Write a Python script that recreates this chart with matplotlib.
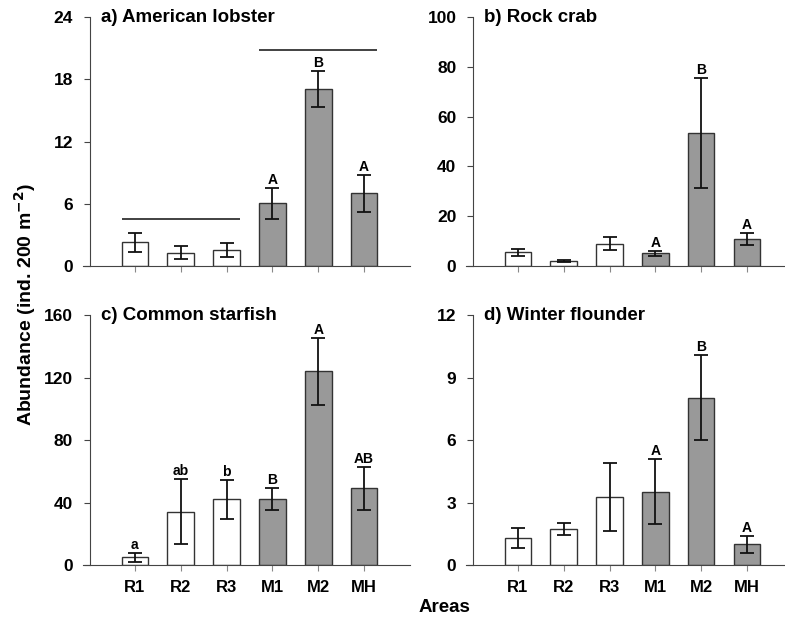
import matplotlib
matplotlib.use('Agg')
import matplotlib.pyplot as plt
import numpy as np

plt.rcParams['font.family'] = ['Liberation Sans', 'DejaVu Sans']
plt.rcParams['font.weight'] = 'bold'

areas = ['R1', 'R2', 'R3', 'M1', 'M2', 'MH']

lobster = [2.28, 1.29, 1.54, 6.05, 17.05, 7.01]
lobster_err = [0.9, 0.6, 0.65, 1.5, 1.7, 1.8]
lobster_lett = ['', '', '', 'A', 'B', 'A']

crab = [5.5, 1.9, 9.0, 5.1, 53.4, 11.0]
crab_err = [1.4, 0.4, 2.5, 1.0, 22.2, 2.4]
crab_lett = ['', '', '', 'A', 'B', 'A']

starfish = [4.9, 34.1, 42.0, 42.0, 124.0, 49.1]
starfish_err = [2.9, 20.8, 12.3, 7.0, 21.3, 13.7]
starfish_lett = ['a', 'ab', 'b', 'B', 'A', 'AB']

flounder = [1.28, 1.74, 3.26, 3.52, 8.02, 0.99]
flounder_err = [0.48, 0.28, 1.63, 1.55, 2.04, 0.40]
flounder_lett = ['', '', '', 'A', 'B', 'A']

colors = ['white', 'white', 'white', '#999999', '#999999', '#999999']

fig = plt.figure(figsize=(7.85, 6.19), dpi=100)

# panel boxes (fig fractions)
panels = [
    ([0.1057, 0.5703, 0.4166, 0.4022], lobster, lobster_err, lobster_lett, 'a) American lobster', [0, 6, 12, 18, 24], (-1.13, 6.0), False),
    ([0.5936, 0.5703, 0.4064, 0.4022], crab, crab_err, crab_lett, 'b) Rock crab', [0, 20, 40, 60, 80, 100], (-1.135, 5.83), False),
    ([0.1057, 0.0872, 0.4166, 0.4039], starfish, starfish_err, starfish_lett, 'c) Common starfish', [0, 40, 80, 120, 160], (-1.13, 6.0), True),
    ([0.5936, 0.0872, 0.4064, 0.4039], flounder, flounder_err, flounder_lett, 'd) Winter flounder', [0, 3, 6, 9, 12], (-1.135, 5.83), True),
]

x = np.arange(len(areas))
axes = []
for box, vals, errs, lett, title, yt, xl, show_lab in panels:
    ax = fig.add_axes(box)
    axes.append(ax)
    ax.bar(x, vals, width=0.58, color=colors, edgecolor='#333333', linewidth=1.0, zorder=2)
    ax.errorbar(x, vals, yerr=errs, fmt='none', ecolor='#111111', elinewidth=1.3,
                capsize=4.7, capthick=1.3, zorder=3)
    ymax = yt[-1]
    for i in range(len(x)):
        if lett[i]:
            ax.text(x[i], vals[i] + errs[i] + ymax * 0.004, lett[i], ha='center', va='bottom',
                    fontsize=10, fontweight='bold')
    ax.set_xlim(xl)
    ax.set_ylim(0, ymax)
    ax.set_yticks(yt)
    ax.set_xticks(x)
    if show_lab:
        ax.set_xticklabels(areas, fontsize=12, fontweight='bold')
    else:
        ax.set_xticklabels([])
    ax.spines['top'].set_visible(False)
    ax.spines['right'].set_visible(False)
    ax.spines['left'].set_position(('data', -0.98))
    ax.spines['left'].set_color('#444444')
    ax.spines['bottom'].set_color('#444444')
    ax.tick_params(axis='y', direction='out', length=4, color='#444444', pad=8, labelsize=12.5)
    ax.tick_params(axis='x', direction='out', length=4, color='#888888', pad=7)
    ax.patch.set_alpha(0)
    tx = xl[0] + 0.055 * (xl[1] - xl[0])
    ax.text(tx, ymax, title, ha='left', va='center', fontsize=13.5, fontweight='bold', clip_on=False)

# significance lines in panel a
axes[0].hlines(4.5, -0.29, 2.29, color='#333333', linewidth=1.3)
axes[0].hlines(20.8, 2.71, 5.29, color='#333333', linewidth=1.3)

fig.text(0.032, 0.507, 'Abundance (ind. 200 m$^{\\mathbf{-2}}$)', rotation=90, ha='center', va='center',
         fontsize=14, fontweight='bold')
fig.text(0.566, 0.018, 'Areas', ha='center', va='center', fontsize=13.5, fontweight='bold')

fig.savefig('out.png', dpi=100)
